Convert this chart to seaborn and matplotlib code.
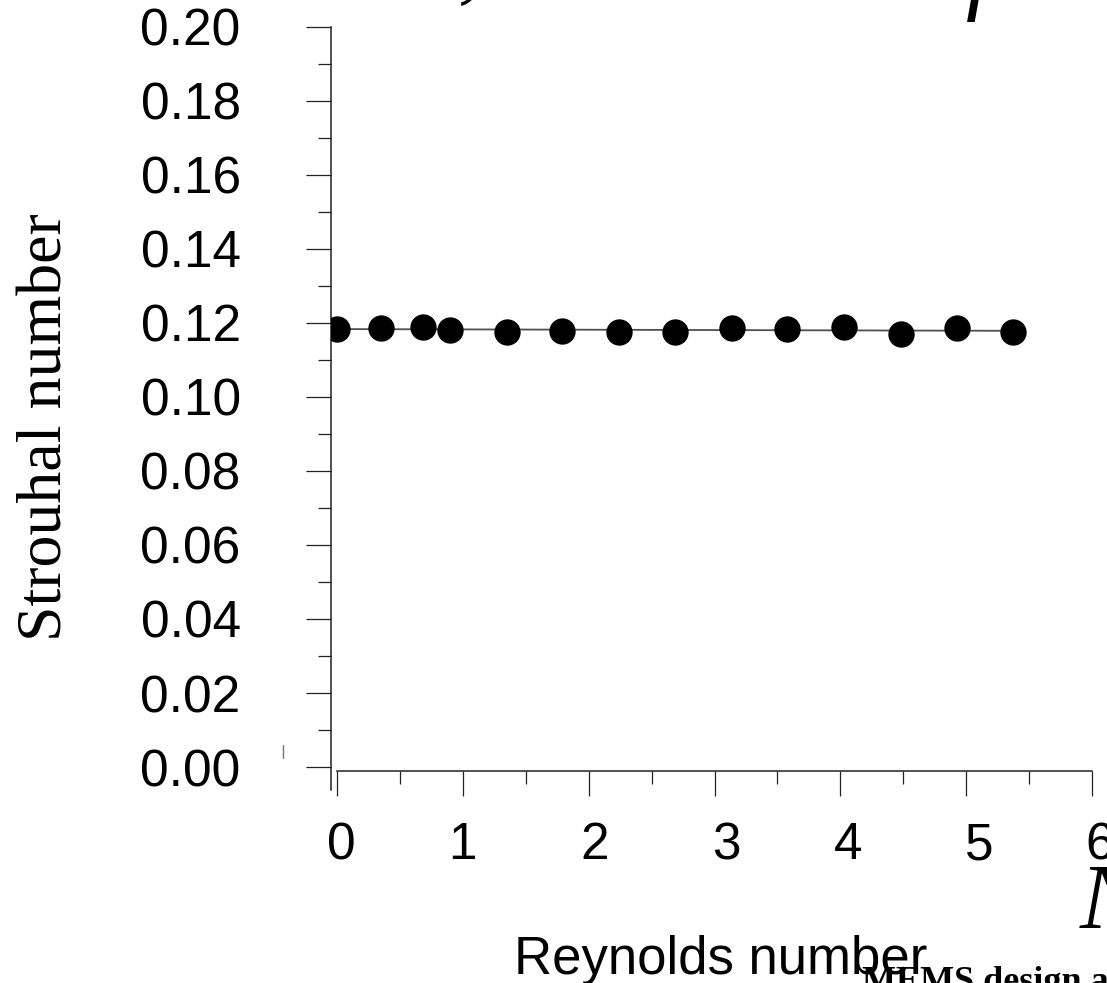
import numpy as np
import pandas as pd
import seaborn as sns
import matplotlib
matplotlib.use("Agg")
import matplotlib.pyplot as plt
from matplotlib.lines import Line2D
from matplotlib.ticker import MultipleLocator
from matplotlib.transforms import ScaledTranslation

# values
reynolds = [0.0, 0.35, 0.68, 0.90, 1.35, 1.79, 2.24, 2.69, 3.14, 3.58, 4.03, 4.48, 4.93, 5.37]
strouhal = [0.1184, 0.1187, 0.1189, 0.1182, 0.1175, 0.1177, 0.1175, 0.1175,
            0.1185, 0.1184, 0.1189, 0.1171, 0.1185, 0.1175]
x_ticks = [0, 1, 2, 3, 4, 5, 6]
x_tick_labels = ["0", "1", "2", "3", "4", "5", "6"]
y_ticks = [0.00, 0.02, 0.04, 0.06, 0.08, 0.10, 0.12, 0.14, 0.16, 0.18, 0.20]
y_tick_labels = ["0.00", "0.02", "0.04", "0.06", "0.08", "0.10",
                 "0.12", "0.14", "0.16", "0.18", "0.20"]
# the original x labels sit a little right of their ticks (pixels)
x_label_shift = [4, 0, 6, 12, 8, 13, 8]

sns.set_style("ticks")
plt.rcParams["font.family"] = ["Liberation Sans", "DejaVu Sans"]
plt.rcParams["text.color"] = "black"
plt.rcParams["xtick.labelcolor"] = "black"
plt.rcParams["ytick.labelcolor"] = "black"
serif = ["Liberation Serif", "DejaVu Serif"]
ink = "#222222"

W, H = 1107, 983
fig = plt.figure(figsize=(W / 100, H / 100), dpi=100)
ax = fig.add_axes([331 / W, (H - 790) / H, 761 / W, 763.3 / H])

df = pd.DataFrame({"Re": reynolds, "St": strouhal})
sns.regplot(data=df, x="Re", y="St", scatter=False, ci=None, ax=ax,
            color="#505050", line_kws={"lw": 1.3, "zorder": 2})
sns.scatterplot(data=df, x="Re", y="St", ax=ax, color="black", s=360,
                linewidth=0, zorder=3)

ax.set_xlim(-0.0477, 6)
ax.set_ylim(-0.0062, 0.20)
ax.set_xticks(x_ticks)
ax.set_xticklabels(x_tick_labels)
ax.xaxis.set_minor_locator(MultipleLocator(0.5))
ax.set_yticks(y_ticks)
ax.set_yticklabels(y_tick_labels)
ax.yaxis.set_minor_locator(MultipleLocator(0.01))
ax.xaxis.get_major_ticks()[0].tick1line.set_visible(False)

for s in ["top", "right"]:
    ax.spines[s].set_visible(False)
for s in ["left", "bottom"]:
    ax.spines[s].set_linewidth(1.1)
    ax.spines[s].set_color(ink)
ax.spines["bottom"].set_position(("data", -0.0011))
ax.spines["bottom"].set_bounds(0, 6)

ax.tick_params(which="major", length=18, width=0.9, color=ink, direction="out",
               labelsize=37, labelcolor="black")
ax.tick_params(which="minor", length=9.4, width=0.9, color=ink, direction="out")
ax.tick_params(axis="y", which="major", pad=47)
ax.tick_params(axis="x", which="major", pad=18)

for lab, dx in zip(ax.get_xticklabels(), x_label_shift):
    lab.set_transform(lab.get_transform() + ScaledTranslation(dx / 100, 0, fig.dpi_scale_trans))

ax.set_xlabel("Reynolds number", fontsize=38, va="baseline", color="black")
ax.xaxis.set_label_coords(0.5125, -0.241)
ax.set_ylabel("Strouhal number", family=serif, fontsize=46, va="baseline", color="black")
ax.yaxis.set_label_coords(-0.3535, 0.4756)

# cut-off bits of the surrounding slide
fig.text(458 / W, 1 + 9 / H, ",", family=serif, style="italic", fontsize=68, va="baseline")
fig.text(966 / W, 1 - 1.5 / H, "f", family=serif, style="italic", fontsize=68, va="baseline")
fig.text(1080 / W, 1 - 928 / H, "N", family=serif, style="italic", fontsize=68, va="baseline")
fig.text(862 / W, 1 - 991 / H, "MEMS design and fabrication", family=serif,
         fontweight="bold", fontsize=26, va="baseline")
fig.add_artist(Line2D([283 / W, 283 / W], [1 - 745 / H, 1 - 758 / H], color="#777777", lw=1.0))

fig.savefig("out.png", dpi=100, facecolor="white")
